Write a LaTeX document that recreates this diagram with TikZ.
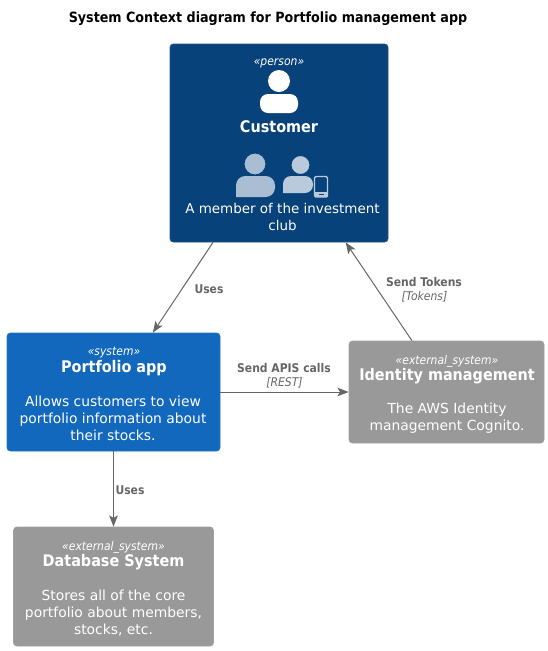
\documentclass[tikz,border=0pt]{standalone}
\usepackage{fontspec}
\setmainfont{DejaVu Sans}
\newfontfamily\condfont{DejaVu Sans Condensed}
\usepackage{tikz}
\usetikzlibrary{arrows.meta}
\definecolor{personblue}{HTML}{08427B}
\definecolor{systemblue}{HTML}{1168BD}
\definecolor{extgray}{HTML}{999999}
\definecolor{relgray}{HTML}{666666}
\definecolor{iconblue}{HTML}{A9BDD3}
\definecolor{iconlight}{HTML}{B9CADC}
\tikzset{
  box/.style={rounded corners=2.5,draw=#1!92!white,fill=#1,line width=.5pt,inner sep=0pt},
  stereo/.style={text=white,font=\fontsize{9}{9}\selectfont\condfont\itshape},
  boxname/.style={text=white,font=\fontsize{12}{12}\selectfont\condfont\bfseries},
  descr/.style={text=white,align=center,font=\fontsize{10.4}{12.75}\selectfont},
  rel/.style={draw=relgray,line width=.75pt,-{Stealth[length=8.5pt,width=6.5pt,inset=2pt]}},
  rellabel/.style={text=relgray,font=\fontsize{9}{9}\selectfont\condfont\bfseries},
  reltech/.style={text=relgray,font=\fontsize{9}{9}\selectfont\condfont\itshape}
}
\begin{document}
\begin{tikzpicture}[x=.75pt,y=-.75pt]
\useasboundingbox (0,0) rectangle (548,651);
\node (title) [font=\fontsize{10.6}{10.6}\selectfont\condfont\bfseries] at (268,19) {System Context diagram for Portfolio management app};
% boxes
\node (customer) [box=personblue,minimum width=163.5pt,minimum height=148.5pt] at (279,143) {};
\node (portfolio) [box=systemblue,minimum width=159.75pt,minimum height=88.5pt] at (113.5,392) {};
\node (identity) [box=extgray,minimum width=146.25pt,minimum height=76.5pt] at (446.5,392) {};
\node (database) [box=extgray,minimum width=150pt,minimum height=89.25pt] at (113.5,586.5) {};
% customer text
\node (custstereo) [stereo] at (279,63) {«person»};
\node (custname) [boxname] at (279,127) {Customer};
\node (custdescr) [descr,font=\fontsize{10.1}{12.75}\selectfont] at (282.5,217) {A member of the investment\\club};
% person icon
\fill [white,rounded corners=6] (260,113) -- (260,94) -- (298,94) -- (298,113) -- cycle;
\fill [white] (279,81) circle (11);
% customer icons
\fill [iconblue,rounded corners=7] (236,197) -- (236,176) -- (275,176) -- (275,197) [sharp corners] -- cycle;
\filldraw [iconblue,draw=personblue,line width=.75pt] (255,164) circle (11);
\fill [iconlight,rounded corners=6] (283,193) -- (283,176) -- (313,176) -- (313,193) [sharp corners] -- cycle;
\filldraw [iconlight,draw=personblue,line width=.75pt] (300.5,165) circle (9.5);
\draw [iconlight,line width=1pt,rounded corners=1] (314.5,176.5) rectangle (327.5,197);
\fill [iconlight] (314.5,191.5) rectangle (327.5,197);
\fill [personblue] (318.5,193.5) rectangle (323.5,194.5);
% portfolio text
\node (portstereo) [stereo] at (114,353) {«system»};
\node (portname) [boxname] at (114,368) {Portfolio app};
\node (portdescr) [descr] at (113,418.5) {Allows customers to view\\portfolio information about\\their stocks.};
% identity text
\node (idstereo) [stereo] at (447,361) {«external\_system»};
\node (idname) [boxname] at (447,376) {Identity management};
\node (iddescr) [descr] at (447,418) {The AWS Identity\\management Cognito.};
% database text
\node (dbstereo) [stereo] at (113.5,547) {«external\_system»};
\node (dbname) [boxname] at (113.5,562) {Database System};
\node (dbdescr) [descr] at (113.5,613) {Stores all of the core\\portfolio about members,\\stocks, etc.};
% relations
\draw [rel] (customer) -- (portfolio);
\draw [rel] (identity) -- (customer);
\draw [rel] (portfolio) -- (identity);
\draw [rel] (portfolio) -- (database);
\node (usesa) [rellabel] at (209,289) {Uses};
\node (tokens) [rellabel] at (424,282) {Send Tokens};
\node (tokenstech) [reltech] at (424.5,296.5) {[Tokens]};
\node (apis) [rellabel] at (284,368) {Send APIS calls};
\node (apistech) [reltech] at (284.5,382.5) {[REST]};
\node (usesb) [rellabel] at (130,490) {Uses};
\end{tikzpicture}
\end{document}
